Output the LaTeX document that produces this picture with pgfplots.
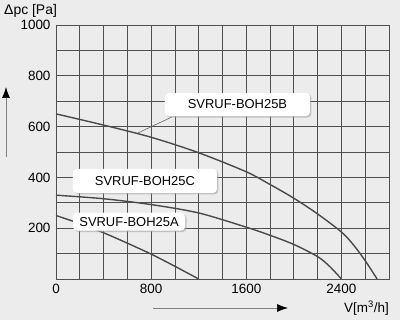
\documentclass[border=0pt]{standalone}
\usepackage{fontspec}
\setmainfont{Liberation Sans}
\usepackage{pgfplots}
\pgfplotsset{compat=1.18}
\usetikzlibrary{shadows,arrows.meta}
\definecolor{bg}{HTML}{ECECEC}
\definecolor{gridc}{HTML}{505050}
\definecolor{curve}{HTML}{4A4A4A}
\begin{document}
\begin{tikzpicture}[x=1bp,y=1bp]
\fill[bg] (0,0) rectangle (400,320);
\useasboundingbox (0,0) rectangle (400,320);
\begin{axis}[
  at={(56bp,41bp)}, anchor=south west,
  scale only axis, width=333bp, height=254bp,
  xmin=0, xmax=2800, ymin=0, ymax=1000,
  xtick={0,200,...,2800},
  xticklabels={0,,,,800,,,,1600,,,,2400,,,},
  ytick={0,100,...,1000},
  yticklabels={,,200,,400,,600,,800,,1000},
  major tick length=0pt,
  grid=major,
  grid style={gridc, line width=0.8bp},
  axis line style={gridc, line width=0.9bp},
  /pgf/number format/assume math mode=true,
  ticklabel style={font=\fontsize{13.5}{15}\selectfont},
  xticklabel style={yshift=-2bp},
  yticklabel style={xshift=-2bp},
  clip=false,
]
\addplot[curve, line width=1.4bp, smooth] coordinates {
 (0,650) (400,606) (800,558) (1200,497) (1600,422) (1800,372) (2000,318) (2200,256) (2400,185) (2500,135) (2600,72) (2700,0)};
\addplot[curve, line width=1.4bp, smooth] coordinates {
 (0,330) (400,316) (800,293) (1200,260) (1600,204) (1800,172) (2000,136) (2200,88) (2300,50) (2400,0)};
\addplot[curve, line width=1.4bp, smooth] coordinates {
 (0,250) (200,218) (400,182) (600,141) (800,98) (1000,50) (1200,0)};
\draw[gray!80!black, line width=0.6bp] (axis cs:689,575) -- (axis cs:975,638);
\tikzset{lbl/.style={fill=white, rounded corners=4bp, inner sep=0pt, align=center,
  font=\fontsize{13}{15}\selectfont,
  drop shadow={shadow xshift=1.5bp, shadow yshift=-1.5bp, fill=gray!70, opacity=0.6}}}
\node[lbl, minimum width=145bp, minimum height=23bp] at (axis cs:1526,687) {SVRUF-BOH25B};
\node[lbl, minimum width=144bp, minimum height=24bp] at (axis cs:748,386) {SVRUF-BOH25C};
\node[lbl, minimum width=112bp, minimum height=18bp] at (axis cs:614,226) {SVRUF-BOH25A};
\end{axis}
\node[anchor=west, font=\fontsize{14}{16}\selectfont, inner sep=0pt] at (4,309) {Δpc [Pa]};
\node[anchor=east, font=\fontsize{13.5}{16}\selectfont, inner sep=0pt] at (389,12) {V[m\textsuperscript{3}/h]};
\draw[gray, line width=0.7bp, -{Latex[length=11bp,width=8bp,black]}] (6,163) -- (6,233);
\draw[gray, line width=0.7bp, -{Latex[length=11bp,width=8bp,black]}] (153,12) -- (288,12);
\end{tikzpicture}
\end{document}
